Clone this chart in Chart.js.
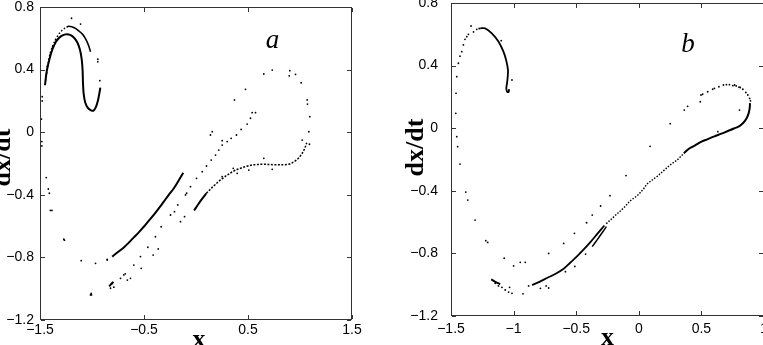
<!DOCTYPE html>
<html>
<head>
<meta charset="utf-8">
<script src="https://cdn.jsdelivr.net/npm/chart.js@4.4.1/dist/chart.umd.min.js"></script>
<style>
  html, body { margin: 0; padding: 0; background: #fff; overflow: hidden; }
  #wrap { position: relative; width: 763px; height: 345px; overflow: hidden; }
  #chartA { position: absolute; left: 0; top: 0; }
  #chartB { position: absolute; left: 380px; top: -2px; }
</style>
</head>
<body>
<div id="wrap">
  <canvas id="chartA" width="380" height="345"></canvas>
  <canvas id="chartB" width="400" height="350"></canvas>
</div>
<script>
// tick values
const yTicks = [-1.2, -0.8, -0.4, 0, 0.4, 0.8];
const xTicksA = [-1.5, -0.5, 0.5, 1.5];
const xTicksB = [-1.5, -1, -0.5, 0, 0.5, 1];

// ---- panel a ----
const aInnerArc = [[-1.452,0.30],[-1.435,0.39],[-1.41,0.465],[-1.38,0.53],[-1.345,0.58],[-1.30,0.612],[-1.255,0.625],
  [-1.21,0.622],[-1.175,0.605],[-1.142,0.575],[-1.115,0.525],[-1.098,0.46],[-1.09,0.39],[-1.087,0.32],[-1.08,0.245],
  [-1.065,0.19],[-1.04,0.155],[-1.01,0.14],[-0.985,0.138],[-0.963,0.16],[-0.944,0.20],[-0.93,0.245],[-0.92,0.285]];
const aOuterLeft = [[-1.447,0.33],[-1.43,0.40],[-1.415,0.465],[-1.395,0.52],[-1.367,0.568],[-1.335,0.61],[-1.29,0.65],[-1.245,0.672]];
const aOuterRight = [[-1.245,0.672],[-1.223,0.677],[-1.17,0.668],[-1.127,0.647],[-1.09,0.625],[-1.063,0.598],[-1.035,0.558],[-1.014,0.514]];
const aDiagSolid = [[-0.806,-0.795],[-0.75,-0.765],[-0.694,-0.736],[-0.645,-0.705],[-0.598,-0.672],[-0.55,-0.64],[-0.502,-0.604],
  [-0.455,-0.567],[-0.406,-0.529],[-0.358,-0.487],[-0.31,-0.444],[-0.262,-0.40],[-0.213,-0.358],[-0.168,-0.31],[-0.123,-0.259]];
const aBlob = [[-0.835,-0.985],[-0.815,-0.97],[-0.795,-0.958]];
const aSigSolid = [[-0.018,-0.50],[0.02,-0.462],[0.06,-0.425],[0.10,-0.39]];
const aSigDotted = [[0.10,-0.39],[0.171,-0.343],[0.26,-0.293],[0.364,-0.248],[0.43,-0.23],[0.492,-0.217],[0.56,-0.208],
  [0.65,-0.205],[0.75,-0.208],[0.85,-0.208],[0.90,-0.203],[0.94,-0.19],[0.98,-0.17],[1.005,-0.15],[1.03,-0.125],[1.05,-0.095],[1.065,-0.068]];
const aDots = [[-1.197,0.728],[-1.11,0.691],[-0.944,0.466],[-0.944,0.45],[-0.925,0.329],[-1.479,0.227],[-1.479,0.20],
  [-1.486,0.084],[-1.482,-0.06],[-1.482,-0.088],[-1.44,-0.29],[-1.42,-0.363],[-1.41,-0.39],[-1.40,-0.50],[-1.385,-0.50],
  [-1.271,-0.684],[-1.265,-0.69],[-1.104,-0.821],[-0.966,-0.838],[-1.014,-1.04],[-1.008,-1.03],[-0.854,-0.817],
  [-1.40,0.50],[-1.38,0.545],[-1.35,0.59],[-1.43,0.42],[-1.44,0.37],
  [-0.806,-0.966],[-0.80,-0.96],[-0.822,-0.997],[-0.79,-0.99],[-0.726,-0.934],[-0.694,-0.912],[-0.68,-0.905],[-0.63,-0.934],
  [-0.66,-0.945],[-0.598,-0.849],[-0.534,-0.795],[-0.527,-0.87],[-0.463,-0.735],[-0.412,-0.785],[-0.39,-0.668],[-0.363,-0.746],
  [-0.335,-0.604],[-0.245,-0.529],[-0.207,-0.508],[-0.175,-0.465],[-0.149,-0.572],[-0.11,-0.54],[-0.101,-0.401],[-0.09,-0.39],
  [-0.053,-0.348],[0.005,-0.295],[0.06,-0.252],[0.101,-0.216],[0.146,-0.178],[0.188,-0.146],[0.219,-0.114],[0.252,-0.082],
  [0.252,-0.054],[0.30,-0.06],[0.338,-0.039],[0.389,-0.018],[0.434,0.018],[0.139,-0.018],[0.156,0.003],[0.492,0.052],
  [0.524,0.089],[0.54,0.125],[0.572,0.125],[0.37,0.206],[0.476,0.274],[0.652,0.372],[0.733,0.397],[0.902,0.393],[0.896,0.36],
  [0.957,0.37],[1.011,0.316],[1.069,0.206],[1.072,0.18],[1.094,0.099],[1.085,0.003],[1.021,-0.05],[1.091,-0.077],
  [0.652,-0.167],[0.733,-0.237],[0.358,-0.231],[0.396,-0.263],[0.508,-0.242],[0.252,-0.284],[-0.854,-0.812],[-1.005,-1.04]];

// ---- panel b ----
const bHookSolid = [[-1.267,0.638],[-1.227,0.638],[-1.174,0.606],[-1.12,0.553],[-1.081,0.489],[-1.058,0.43],[-1.045,0.372],
  [-1.047,0.33],[-1.052,0.29],[-1.058,0.255],[-1.052,0.233],[-1.04,0.232],[-1.036,0.25]];
const bHookDots = [[-1.454,0.329],[-1.441,0.415],[-1.428,0.46],[-1.414,0.489],[-1.401,0.532],[-1.388,0.568],[-1.374,0.585],
  [-1.361,0.60],[-1.34,0.653],[-1.32,0.615],[-1.294,0.632],[-1.275,0.637],[-1.099,0.559],[-1.013,0.308]];
const bLeftDots = [[-1.46,0.223],[-1.462,0.095],[-1.454,-0.054],[-1.447,-0.118],[-1.428,-0.229],[-1.382,-0.408],[-1.366,-0.459],
  [-1.308,-0.587],[-1.222,-0.719],[-1.207,-0.73],[-1.075,-0.831],[-1.0,-0.88],[-0.947,-0.857],[-0.907,-0.857]];
const bLowSolid = [[-1.179,-0.966],[-1.15,-0.98],[-1.125,-0.99],[-1.107,-0.996]];
const bLowDots = [[-1.147,-0.991],[-1.121,-1.008],[-1.093,-1.017],[-1.067,-1.034],[-1.04,-1.047],[-1.013,-1.055],[-1.032,-1.017],
  [-0.925,-1.058],[-0.786,-1.023],[-0.72,-1.021],[-0.74,-1.008],[-0.88,-1.008]];
const bMainSolid = [[-0.853,-1.002],[-0.79,-0.98],[-0.733,-0.957],[-0.665,-0.93],[-0.6,-0.898],[-0.546,-0.858],[-0.492,-0.818],
  [-0.44,-0.775],[-0.385,-0.726],[-0.33,-0.674],[-0.275,-0.622]];
const bParallel = [[-0.372,-0.757],[-0.33,-0.71],[-0.29,-0.665],[-0.259,-0.629]];
const bMainDotted = [[-0.26,-0.61],[-0.198,-0.565],[-0.118,-0.507],[-0.065,-0.462],[-0.011,-0.43],[0.04,-0.385],[0.069,-0.355],
  [0.15,-0.305],[0.203,-0.268],[0.25,-0.235],[0.31,-0.2],[0.36,-0.16]];
const bUpperSolid = [[0.36,-0.16],[0.403,-0.13],[0.45,-0.11],[0.497,-0.088],[0.55,-0.07],[0.604,-0.052],[0.66,-0.035],
  [0.711,-0.018],[0.76,-0.002],[0.80,0.012],[0.835,0.035],[0.86,0.062],[0.877,0.095],[0.886,0.13],[0.888,0.16]];
const bLoopDots = [[0.892,0.175],[0.885,0.19],[0.871,0.212],[0.855,0.228],[0.831,0.249],[0.81,0.26],[0.778,0.27],[0.751,0.272],
  [0.724,0.278],[0.70,0.278],[0.676,0.276],[0.64,0.265],[0.604,0.255],[0.59,0.249],[0.55,0.233],[0.51,0.217],[0.497,0.212],
  [0.491,0.169],[0.39,0.14],[0.363,0.116],[0.251,0.029],[0.09,-0.116],[-0.102,-0.303],[-0.23,-0.431],[0.804,0.116],
  [0.631,-0.022],[0.80,0.262],[0.765,0.276]];
const bMidDots = [[-0.514,-0.672],[-0.372,-0.555],[-0.305,-0.497],[-0.417,-0.604],[-0.425,-0.804],[-0.511,-0.883],
  [-0.586,-0.917],[-0.72,-0.8],[-0.6,-0.736]];

const pts = arr => arr.map(([x, y]) => ({ x, y }));

function dots(arr) {
  return { data: pts(arr), showLine: false, pointRadius: 0.9, pointBorderWidth: 0, pointBackgroundColor: '#000' };
}

function curve(arr, width, dash) {
  return { data: pts(arr), showLine: true, pointRadius: 0, borderColor: '#000', borderWidth: width,
    borderDash: dash || [], tension: 0.35 };
}

const fmt = v => (v < 0 ? '\u2212' : '') + Math.abs(v);
const tickFont = { family: "'Liberation Sans', Arial, sans-serif", size: 14 };

// box, inward ticks, axis titles and the panel letter
const frame = {
  id: 'frame',
  afterDraw(chart, args, o) {
    const { ctx, chartArea: a, scales: { x, y } } = chart;
    ctx.save();
    ctx.fillStyle = '#333';
    const L = Math.round(a.left), R = Math.round(a.right) - 1;
    const T = Math.round(a.top), B = Math.round(a.bottom) - 1;
    ctx.fillRect(L, T, R - L + 1, 1);
    ctx.fillRect(L, B, R - L + 1, 1);
    ctx.fillRect(L, T, 1, B - T + 1);
    ctx.fillRect(R, T, 1, B - T + 1);
    x.ticks.forEach(t => {
      const p = Math.round(x.getPixelForValue(t.value));
      ctx.fillRect(p, B - 4, 1, 4);
      ctx.fillRect(p, T + 1, 1, 4);
    });
    y.ticks.forEach(t => {
      const p = Math.round(y.getPixelForValue(t.value));
      ctx.fillRect(L + 1, p, 4, 1);
      ctx.fillRect(R - 4, p, 4, 1);
    });

    ctx.fillStyle = '#000';
    ctx.font = "bold 26px 'Liberation Serif', 'Times New Roman', serif";
    ctx.textAlign = 'center';
    ctx.textBaseline = 'alphabetic';
    ctx.fillText('x', (a.left + a.right) / 2 + o.xTitleShift, a.bottom + o.xTitleGap);
    ctx.save();
    ctx.translate(a.left - o.yTitleGap, (a.top + a.bottom) / 2 + o.yTitleShift);
    ctx.rotate(-Math.PI / 2);
    ctx.fillText('dx/dt', 0, 0);
    ctx.restore();

    ctx.font = "italic 27px 'Liberation Serif', 'Times New Roman', serif";
    ctx.fillText(o.letter, x.getPixelForValue(o.letterAt[0]), y.getPixelForValue(o.letterAt[1]));
    ctx.restore();
  }
};

function makeChart(id, datasets, xTicks, opt) {
  return new Chart(document.getElementById(id), {
    type: 'scatter',
    data: { datasets },
    options: {
      responsive: false,
      animation: false,
      events: [],
      layout: { padding: opt.padding },
      plugins: { legend: { display: false }, tooltip: { enabled: false }, frame: opt.frame },
      scales: {
        x: {
          type: 'linear', min: xTicks[0], max: xTicks[xTicks.length - 1],
          afterBuildTicks: s => { s.ticks = xTicks.map(value => ({ value })); },
          afterFit: s => { s.height = opt.xHeight; s.paddingLeft = s.paddingRight = s.paddingTop = s.paddingBottom = 0; },
          grid: { display: false, drawTicks: false },
          border: { display: false },
          ticks: { padding: opt.xPad, font: tickFont, color: '#000', autoSkip: false, maxRotation: 0, callback: fmt }
        },
        y: {
          type: 'linear', min: -1.2, max: 0.8,
          afterBuildTicks: s => { s.ticks = yTicks.map(value => ({ value })); },
          afterFit: s => { s.width = opt.yWidth; s.paddingLeft = s.paddingRight = s.paddingTop = s.paddingBottom = 0; },
          grid: { display: false, drawTicks: false },
          border: { display: false },
          ticks: { padding: opt.yPad, font: tickFont, color: '#000', autoSkip: false, callback: fmt }
        }
      }
    },
    plugins: [frame]
  });
}

makeChart('chartA', [
  curve(aInnerArc, 2),
  curve(aOuterLeft, 1.5, [1.5, 2]),
  curve(aOuterRight, 1.6),
  curve(aDiagSolid, 2),
  curve(aBlob, 2),
  curve(aSigSolid, 2),
  curve(aSigDotted, 1.5, [2, 1.5]),
  dots(aDots)
], xTicksA, {
  padding: { top: 7, right: 28, left: 0, bottom: 0 },
  xHeight: 25, yWidth: 40, xPad: 2, yPad: 6,
  frame: { letter: 'a', letterAt: [0.735, 0.538], xTitleGap: 27, xTitleShift: 3, yTitleGap: 30, yTitleShift: -6 }
});

makeChart('chartB', [
  curve(bHookSolid, 1.8),
  curve(bLowSolid, 2),
  curve(bMainSolid, 1.8),
  curve(bParallel, 1.5),
  curve(bMainDotted, 1.4, [1.5, 1.5]),
  curve(bUpperSolid, 2),
  dots(bHookDots),
  dots(bLeftDots),
  dots(bLowDots),
  dots(bLoopDots),
  dots(bMidDots)
], xTicksB, {
  padding: { top: 5, right: 16, left: 0, bottom: 0 },
  xHeight: 32, yWidth: 71, xPad: 5, yPad: 13,
  frame: { letter: 'b', letterAt: [0.393, 0.487], xTitleGap: 29, xTitleShift: 0, yTitleGap: 28, yTitleShift: -12 }
});
</script>
</body>
</html>
